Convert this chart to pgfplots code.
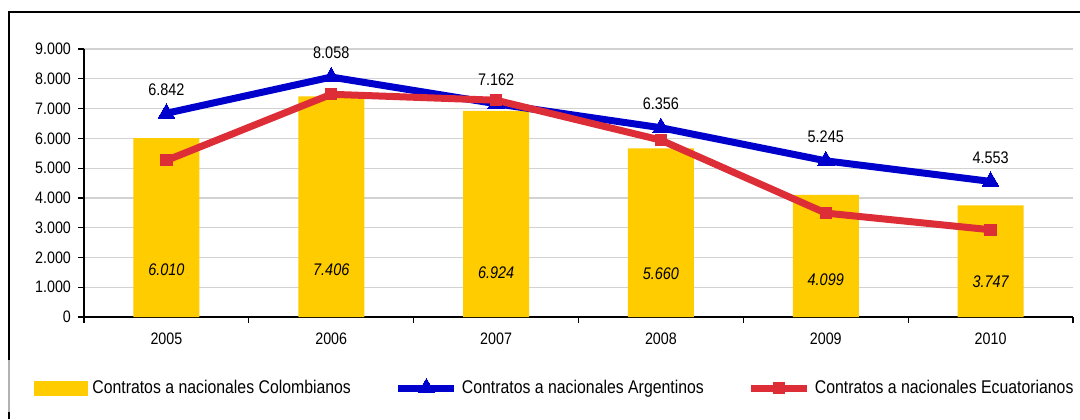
\documentclass[border=0pt]{standalone}
\usepackage{pgfplots}
\pgfplotsset{compat=1.18}
\usepackage{fontspec}
\setmainfont{Liberation Sans}[FakeStretch=0.86]
\definecolor{cyel}{RGB}{255,204,0}
\definecolor{cblue}{RGB}{0,0,204}
\definecolor{cred}{RGB}{221,46,55}
\pgfplotsset{
  legline/.style={legend image code/.code={\draw[mark repeat=2,mark phase=2,##1] plot coordinates {(0pt,0pt) (14pt,0pt) (28pt,0pt)};}},
  legbar/.style={legend image code/.code={\fill[cyel] (0pt,-3.75pt) rectangle (27pt,3.75pt);}},
}
\begin{document}
\begin{tikzpicture}
\useasboundingbox (0,0) rectangle (540pt,209.5pt);
\fill[white] (0,0) rectangle (540pt,209.5pt);
\draw[line width=1pt] (4.5pt,29.5pt) -- (4.5pt,203.5pt) -- (540pt,203.5pt);
\draw[line width=0.6pt, gray!60] (4.5pt,3.5pt) -- (4.5pt,29.5pt);
\draw[line width=1pt] (4.5pt,0pt) -- (4.5pt,3.5pt);
\begin{axis}[
  at={(42pt,51pt)}, anchor=south west,
  scale only axis, width=494.5pt, height=134pt,
  xmin=-0.5, xmax=5.5, ymin=0, ymax=9000,
  axis x line*=bottom, axis y line*=left,
  axis line style={line width=0.6pt, -},
  xtick={-0.5,0.5,1.5,2.5,3.5,4.5,5.5},
  xticklabels={},
  extra x ticks={0,1,2,3,4,5},
  extra x tick labels={2005,2006,2007,2008,2009,2010},
  extra x tick style={major tick length=0pt, xticklabel style={yshift=-4.5pt}},
  ytick={0,1000,2000,3000,4000,5000,6000,7000,8000,9000},
  yticklabels={0,1.000,2.000,3.000,4.000,5.000,6.000,7.000,8.000,9.000},
  tick align=outside, major tick length=3pt,
  tick style={black, line width=0.6pt},
  ymajorgrids, grid style={gray!35, line width=0.6pt},
  ticklabel style={font=\fontsize{8.3}{10}\selectfont},
  clip=false,
  legend columns=3,
  legend style={draw=none, fill=none, at={(axis description cs:-0.0506,-0.265)}, anchor=west,
    inner sep=0pt, font=\fontsize{9.2}{11}\selectfont, legend cell align=left,
    /tikz/every even column/.append style={column sep=20pt}},
]
\addplot[fill=cyel, draw=none, ybar, bar width=33pt, legbar]
  coordinates {(0,6010) (1,7406) (2,6924) (3,5660) (4,4099) (5,3747)};
\addlegendentry{Contratos a nacionales Colombianos}
\addplot[cblue, line width=3.5pt, mark=triangle*, mark size=4.8pt,
  mark options={solid, line width=0pt},
  nodes near coords, point meta=explicit symbolic,
  nodes near coords style={anchor=center, yshift=12pt, text=black, font=\fontsize{8.4}{10}\selectfont},
  legline]
  coordinates {(0,6842)[6.842] (1,8058)[8.058] (2,7162)[7.162] (3,6356)[6.356] (4,5245)[5.245] (5,4553)[4.553]};
\addlegendentry{Contratos a nacionales Argentinos}
\addplot[cred, line width=3.5pt, mark=square*, mark size=2.8pt,
  mark options={solid, line width=0pt}, legline]
  coordinates {(0,5260) (1,7480) (2,7280) (3,5940) (4,3490) (5,2930)};
\addlegendentry{Contratos a nacionales Ecuatorianos}
\addplot[draw=none, mark=none, nodes near coords, point meta=explicit symbolic,
  nodes near coords style={anchor=center, text=black, font=\fontsize{8.4}{10}\selectfont\itshape},
  forget plot]
  coordinates {(0,1580)[6.010] (1,1580)[7.406] (2,1480)[6.924] (3,1440)[5.660] (4,1240)[4.099] (5,1180)[3.747]};
\end{axis}
\end{tikzpicture}
\end{document}
